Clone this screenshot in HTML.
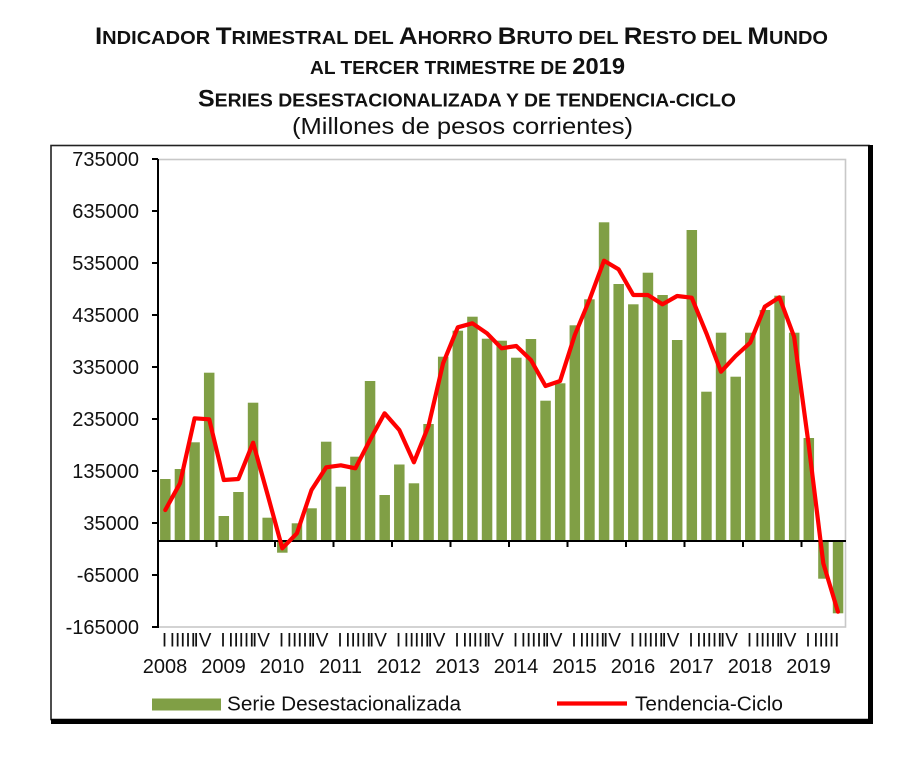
<!DOCTYPE html>
<html>
<head>
<meta charset="utf-8">
<style>
  html,body{margin:0;padding:0;background:#fff;}
  svg{display:block;}
  text{font-family:"Liberation Sans", Arial, sans-serif;fill:#111;}
</style>
</head>
<body>
<svg width="909" height="757" viewBox="0 0 909 757" xmlns="http://www.w3.org/2000/svg">
  <rect x="0" y="0" width="909" height="757" fill="#fff"/>

  <!-- Title -->
  <g font-weight="bold">
    <text x="95" y="44" textLength="733" lengthAdjust="spacingAndGlyphs"><tspan font-size="24">I</tspan><tspan font-size="18.6">NDICADOR </tspan><tspan font-size="24">T</tspan><tspan font-size="18.6">RIMESTRAL DEL </tspan><tspan font-size="24">A</tspan><tspan font-size="18.6">HORRO </tspan><tspan font-size="24">B</tspan><tspan font-size="18.6">RUTO DEL </tspan><tspan font-size="24">R</tspan><tspan font-size="18.6">ESTO DEL </tspan><tspan font-size="24">M</tspan><tspan font-size="18.6">UNDO</tspan></text>
    <text x="310" y="74" textLength="315" lengthAdjust="spacingAndGlyphs"><tspan font-size="18.6">AL TERCER TRIMESTRE DE </tspan><tspan font-size="23">2019</tspan></text>
    <text x="198" y="106.5" textLength="538" lengthAdjust="spacingAndGlyphs"><tspan font-size="24">S</tspan><tspan font-size="18.6">ERIES DESESTACIONALIZADA Y DE TENDENCIA-CICLO</tspan></text>
  </g>
  <text x="292" y="134" font-size="23" textLength="341" lengthAdjust="spacingAndGlyphs">(Millones de pesos corrientes)</text>

  <!-- Outer frame -->
  <rect x="51" y="145.5" width="818" height="574" fill="none" stroke="#222" stroke-width="1.6"/>
  <rect x="868" y="145" width="5" height="579" fill="#000"/>
  <rect x="51" y="719" width="822" height="5" fill="#000"/>

  <!-- Plot area border (light gray) -->
  <rect x="158" y="159.5" width="687.5" height="467.5" fill="#fff" stroke="#c8c8c8" stroke-width="1.6"/>

  <!-- Bars -->
  <g fill="#809f45">
    <rect x="160.06" y="479" width="10.5" height="62"/>
    <rect x="174.69" y="469" width="10.5" height="72"/>
    <rect x="189.31" y="442.3" width="10.5" height="98.7"/>
    <rect x="203.94" y="372.7" width="10.5" height="168.3"/>
    <rect x="218.56" y="516" width="10.5" height="25"/>
    <rect x="233.19" y="492" width="10.5" height="49"/>
    <rect x="247.81" y="402.7" width="10.5" height="138.3"/>
    <rect x="262.44" y="517.7" width="10.5" height="23.3"/>
    <rect x="277.06" y="541" width="10.5" height="11.7"/>
    <rect x="291.69" y="523.3" width="10.5" height="17.7"/>
    <rect x="306.31" y="508.3" width="10.5" height="32.7"/>
    <rect x="320.94" y="441.7" width="10.5" height="99.3"/>
    <rect x="335.56" y="486.7" width="10.5" height="54.3"/>
    <rect x="350.19" y="456.7" width="10.5" height="84.3"/>
    <rect x="364.81" y="381" width="10.5" height="160"/>
    <rect x="379.44" y="495" width="10.5" height="46"/>
    <rect x="394.06" y="464.5" width="10.5" height="76.5"/>
    <rect x="408.69" y="483.3" width="10.5" height="57.7"/>
    <rect x="423.31" y="424" width="10.5" height="117"/>
    <rect x="437.94" y="356.7" width="10.5" height="184.3"/>
    <rect x="452.56" y="330.7" width="10.5" height="210.3"/>
    <rect x="467.19" y="316.7" width="10.5" height="224.3"/>
    <rect x="481.81" y="338.7" width="10.5" height="202.3"/>
    <rect x="496.44" y="340.7" width="10.5" height="200.3"/>
    <rect x="511.06" y="357.7" width="10.5" height="183.3"/>
    <rect x="525.69" y="339" width="10.5" height="202"/>
    <rect x="540.31" y="400.7" width="10.5" height="140.3"/>
    <rect x="554.94" y="383.3" width="10.5" height="157.7"/>
    <rect x="569.56" y="325.3" width="10.5" height="215.7"/>
    <rect x="584.19" y="299.3" width="10.5" height="241.7"/>
    <rect x="598.81" y="222.3" width="10.5" height="318.7"/>
    <rect x="613.44" y="284" width="10.5" height="257"/>
    <rect x="628.06" y="304.3" width="10.5" height="236.7"/>
    <rect x="642.69" y="272.7" width="10.5" height="268.3"/>
    <rect x="657.31" y="295" width="10.5" height="246"/>
    <rect x="671.94" y="340" width="10.5" height="201"/>
    <rect x="686.56" y="230" width="10.5" height="311"/>
    <rect x="701.19" y="391.7" width="10.5" height="149.3"/>
    <rect x="715.81" y="332.7" width="10.5" height="208.3"/>
    <rect x="730.44" y="376.7" width="10.5" height="164.3"/>
    <rect x="745.06" y="332.7" width="10.5" height="208.3"/>
    <rect x="759.69" y="310" width="10.5" height="231"/>
    <rect x="774.31" y="295.7" width="10.5" height="245.3"/>
    <rect x="788.94" y="332.7" width="10.5" height="208.3"/>
    <rect x="803.56" y="438" width="10.5" height="103"/>
    <rect x="818.19" y="541" width="10.5" height="37.7"/>
    <rect x="832.81" y="541" width="10.5" height="72.3"/>
  </g>

  <!-- Y axis -->
  <g stroke="#000" stroke-width="2">
    <line x1="158" y1="159" x2="158" y2="628"/>
    <line x1="152" y1="159" x2="158" y2="159"/>
    <line x1="152" y1="211" x2="158" y2="211"/>
    <line x1="152" y1="263" x2="158" y2="263"/>
    <line x1="152" y1="315" x2="158" y2="315"/>
    <line x1="152" y1="367" x2="158" y2="367"/>
    <line x1="152" y1="419" x2="158" y2="419"/>
    <line x1="152" y1="471" x2="158" y2="471"/>
    <line x1="152" y1="523" x2="158" y2="523"/>
    <line x1="152" y1="575" x2="158" y2="575"/>
    <line x1="152" y1="627" x2="158" y2="627"/>
  </g>
  <g font-size="20" text-anchor="end">
    <text x="139" y="166">735000</text>
    <text x="139" y="218">635000</text>
    <text x="139" y="270">535000</text>
    <text x="139" y="322">435000</text>
    <text x="139" y="374">335000</text>
    <text x="139" y="426">235000</text>
    <text x="139" y="478">135000</text>
    <text x="139" y="530">35000</text>
    <text x="139" y="582">-65000</text>
    <text x="139" y="634">-165000</text>
  </g>

  <!-- X axis (zero line) -->
  <g stroke="#000" stroke-width="2">
    <line x1="157" y1="541" x2="846" y2="541"/>
    <line x1="216.5" y1="541" x2="216.5" y2="547"/>
    <line x1="275" y1="541" x2="275" y2="547"/>
    <line x1="333.5" y1="541" x2="333.5" y2="547"/>
    <line x1="392" y1="541" x2="392" y2="547"/>
    <line x1="450.5" y1="541" x2="450.5" y2="547"/>
    <line x1="509" y1="541" x2="509" y2="547"/>
    <line x1="567.5" y1="541" x2="567.5" y2="547"/>
    <line x1="626" y1="541" x2="626" y2="547"/>
    <line x1="684.5" y1="541" x2="684.5" y2="547"/>
    <line x1="743" y1="541" x2="743" y2="547"/>
    <line x1="801.5" y1="541" x2="801.5" y2="547"/>
  </g>

  <!-- Trend line -->
  <polyline fill="none" stroke="#ff0000" stroke-width="4.2" stroke-linejoin="round" stroke-linecap="round"
    points="165.3,510 180,483.3 194.6,418.3 209.2,419.3 223.8,480 238.4,479 253.1,442.7 267.7,495 282.3,548.3 296.9,533.3 311.5,490 326.2,467.3 340.8,465.3 355.4,468.3 370,440 384.6,413.3 399.3,430 413.9,462.3 428.5,426 443.1,363.3 457.8,327.3 472.4,323.3 487,333.3 501.6,348.3 516.3,346 530.9,360 545.5,386 560.1,381 574.8,335 589.4,300 604,260.7 618.6,269.3 633.3,295 647.9,295 662.5,304.3 677.1,296 691.7,297.7 706.4,333.3 721,371.7 735.6,356 750.2,342.7 764.8,306.7 779.4,297.3 794.1,336.7 808.7,445 823.3,563.3 837.9,611.7"/>

  <!-- Quarter labels -->
  <g font-size="19" text-anchor="middle">
    <text x="164.5" y="646.5">I</text><text x="175" y="646.5">II</text><text x="188" y="646.5">III</text><text x="202.5" y="646.5">IV</text>
    <text x="223" y="646.5">I</text><text x="233.5" y="646.5">II</text><text x="246.5" y="646.5">III</text><text x="261" y="646.5">IV</text>
    <text x="281.5" y="646.5">I</text><text x="292" y="646.5">II</text><text x="305" y="646.5">III</text><text x="319.5" y="646.5">IV</text>
    <text x="340" y="646.5">I</text><text x="350.5" y="646.5">II</text><text x="363.5" y="646.5">III</text><text x="378" y="646.5">IV</text>
    <text x="398.5" y="646.5">I</text><text x="409" y="646.5">II</text><text x="422" y="646.5">III</text><text x="436.5" y="646.5">IV</text>
    <text x="457" y="646.5">I</text><text x="467.5" y="646.5">II</text><text x="480.5" y="646.5">III</text><text x="495" y="646.5">IV</text>
    <text x="515.5" y="646.5">I</text><text x="526" y="646.5">II</text><text x="539" y="646.5">III</text><text x="553.5" y="646.5">IV</text>
    <text x="574" y="646.5">I</text><text x="584.5" y="646.5">II</text><text x="597.5" y="646.5">III</text><text x="612" y="646.5">IV</text>
    <text x="632.5" y="646.5">I</text><text x="643" y="646.5">II</text><text x="656" y="646.5">III</text><text x="670.5" y="646.5">IV</text>
    <text x="691" y="646.5">I</text><text x="701.5" y="646.5">II</text><text x="714.5" y="646.5">III</text><text x="729" y="646.5">IV</text>
    <text x="749.5" y="646.5">I</text><text x="760" y="646.5">II</text><text x="773" y="646.5">III</text><text x="787.5" y="646.5">IV</text>
    <text x="808" y="646.5">I</text><text x="818.5" y="646.5">II</text><text x="831.5" y="646.5">III</text>
  </g>

  <!-- Year labels -->
  <g font-size="20" text-anchor="middle">
    <text x="165" y="673">2008</text>
    <text x="223.5" y="673">2009</text>
    <text x="282" y="673">2010</text>
    <text x="340.5" y="673">2011</text>
    <text x="399" y="673">2012</text>
    <text x="457.5" y="673">2013</text>
    <text x="516" y="673">2014</text>
    <text x="574.5" y="673">2015</text>
    <text x="633" y="673">2016</text>
    <text x="691.5" y="673">2017</text>
    <text x="750" y="673">2018</text>
    <text x="808.5" y="673">2019</text>
  </g>

  <!-- Legend -->
  <rect x="152" y="698.5" width="69" height="12" fill="#809f45"/>
  <text x="227" y="710.5" font-size="20" textLength="234" lengthAdjust="spacingAndGlyphs">Serie Desestacionalizada</text>
  <line x1="557" y1="703.5" x2="627" y2="703.5" stroke="#ff0000" stroke-width="4.2"/>
  <text x="635" y="710.5" font-size="20" textLength="148" lengthAdjust="spacingAndGlyphs">Tendencia-Ciclo</text>
</svg>
</body>
</html>
